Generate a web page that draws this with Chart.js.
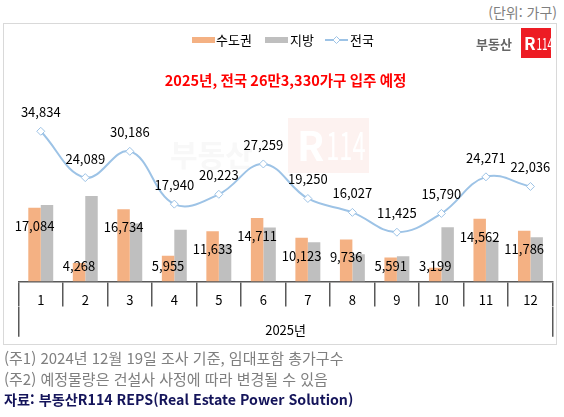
<!DOCTYPE html>
<html lang="ko">
<head>
<meta charset="utf-8">
<title>2025년 입주 예정 물량</title>
<script src="https://cdn.jsdelivr.net/npm/chart.js@4.4.1/dist/chart.umd.min.js"></script>
<style>
    body { margin: 0; background: #fff; font-family: 'Noto Sans CJK KR', 'Noto Sans', sans-serif; }
    #page { position: relative; width: 564px; height: 417px; overflow: hidden; }
    #unit { position: absolute; right: 7px; top: 2px; font-size: 14px; color: #7f7f7f; }
    #box { position: absolute; left: 3px; top: 23px; width: 554px; height: 322px; border: 1px solid #d9d9d9; box-sizing: border-box; }
    #chartWrap { position: absolute; left: 0; top: 0; width: 564px; height: 350px; }
    .note { position: absolute; left: 4px; font-size: 15px; color: #7f7f7f; white-space: nowrap; }
    #src { position: absolute; left: 4px; top: 389px; font-size: 14.2px; font-weight: bold; color: #14145a; white-space: nowrap; }
</style>
</head>
<body>
<div id="page">
    <div id="unit">(단위: 가구)</div>
    <div id="box"></div>
    <div id="chartWrap"><canvas id="supplyChart"></canvas></div>
    <div class="note" style="top:347px">(주1) 2024년 12월 19일 조사 기준, 임대포함 총가구수</div>
    <div class="note" style="top:368px">(주2) 예정물량은 건설사 사정에 따라 변경될 수 있음</div>
    <div id="src">자료: 부동산R114 REPS(Real Estate Power Solution)</div>
</div>
<script>
// data (가구)
const months = ['1', '2', '3', '4', '5', '6', '7', '8', '9', '10', '11', '12'];
const capital = [17084, 4268, 16734, 5955, 11633, 14711, 10123, 9736, 5591, 3199, 14562, 11786];
const regions = [17750, 19821, 13452, 11985, 8590, 12548, 9127, 6291, 5834, 12591, 9709, 10250];
const nationwide = [34834, 24089, 30186, 17940, 20223, 27259, 19250, 16027, 11425, 15790, 24271, 22036];
const yearLabel = ['2025년'];

const FONT = "'Noto Sans CJK KR', 'Noto Sans', sans-serif";
const ORANGE = '#f4b183';
const GRAY = '#bfbfbf';
const BLUE = '#9dc3e6';
const AXIS = '#595959';

function fmt(v) {
    return v.toLocaleString('en-US');
}

// draws "R114" with a bold R and a narrow 114
function drawR114(c, x, y, size, color) {
    c.fillStyle = color;
    c.font = 'bold ' + size + 'px ' + FONT;
    c.fillText('R', x, y);
    const w = c.measureText('R').width;
    c.save();
    c.translate(x + w + size * 0.05, y);
    c.scale(0.62, 1);
    c.font = (size * 0.95) + 'px ' + FONT;
    c.fillText('114', 0, 0);
    c.restore();
}

// faint watermark behind the bars
const watermark = {
    id: 'watermark',
    beforeDatasetsDraw(chart) {
        const c = chart.ctx;
        c.save();
        c.textBaseline = 'middle';
        c.fillStyle = '#fdf2f0';
        c.fillRect(288, 118, 81, 55);
        c.fillStyle = '#f8f8f8';
        c.font = 'bold 30px ' + FONT;
        c.fillText('부동산', 170, 155);
        drawR114(c, 297, 146, 40, '#ffffff');
        c.restore();
    }
};

// value labels
const valueLabels = {
    id: 'valueLabels',
    afterDatasetsDraw(chart) {
        const c = chart.ctx;
        const base = chart.scales.y.getPixelForValue(0);
        c.save();
        c.font = '13px ' + FONT;
        c.fillStyle = '#000';
        c.textAlign = 'center';
        c.textBaseline = 'middle';
        chart.getDatasetMeta(0).data.forEach((bar, i) => {
            const y = Math.min(bar.y + 18, base - 15);
            c.fillText(fmt(capital[i]), bar.x, y);
        });
        chart.getDatasetMeta(2).data.forEach((pt, i) => {
            c.fillText(fmt(nationwide[i]), pt.x, pt.y - 19);
        });
        c.restore();
    }
};

// legend + logo
const legendLogo = {
    id: 'legendLogo',
    afterDraw(chart) {
        const c = chart.ctx;
        const y = 40;
        c.save();
        c.font = '13px ' + FONT;
        c.textBaseline = 'middle';
        c.fillStyle = ORANGE;
        c.fillRect(192, y - 3, 23, 6);
        c.fillStyle = GRAY;
        c.fillRect(265, y - 3, 23, 6);
        c.fillStyle = '#000';
        c.fillText('수도권', 216, y);
        c.fillText('지방', 290, y);
        c.fillText('전국', 350, y);
        c.strokeStyle = BLUE;
        c.lineWidth = 2;
        c.beginPath();
        c.moveTo(325, y);
        c.lineTo(348, y);
        c.stroke();
        c.fillStyle = '#fff';
        c.lineWidth = 1;
        c.beginPath();
        c.moveTo(336.5, y - 3.5);
        c.lineTo(340, y);
        c.lineTo(336.5, y + 3.5);
        c.lineTo(333, y);
        c.closePath();
        c.fill();
        c.stroke();

        // R114 logo
        c.fillStyle = '#ed1c24';
        c.fillRect(521, 28, 30, 30);
        drawR114(c, 524, 44, 17, '#ffffff');
        c.fillStyle = '#666';
        c.font = 'bold 13px ' + FONT;
        c.fillText('부동산', 476, 44);
        c.restore();
    }
};

// empty axis title used only as spacer
function spacer(h) {
    return { display: true, text: '', font: { size: 10, lineHeight: 1 }, padding: { top: h - 10, bottom: 0 } };
}

const ctx = document.getElementById('supplyChart').getContext('2d');
const supplyChart = new Chart(ctx, {
    type: 'bar',
    data: {
        labels: months,
        datasets: [{
            label: '수도권',
            data: capital,
            backgroundColor: ORANGE,
            order: 2,
            categoryPercentage: 0.56,
            barPercentage: 1
        }, {
            label: '지방',
            data: regions,
            backgroundColor: GRAY,
            order: 2,
            categoryPercentage: 0.56,
            barPercentage: 1
        }, {
            type: 'line',
            label: '전국',
            data: nationwide,
            borderColor: BLUE,
            borderWidth: 2,
            tension: 0.4,
            pointStyle: 'rectRot',
            pointRadius: 4,
            pointBackgroundColor: '#fff',
            pointBorderColor: BLUE,
            pointBorderWidth: 1,
            order: 1
        }]
    },
    options: {
        responsive: true,
        maintainAspectRatio: false,
        animation: false,
        layout: {
            padding: { left: 18.5, right: 11.3, top: 0, bottom: 12.7 }
        },
        plugins: {
            legend: { display: false },
            tooltip: { enabled: false },
            title: {
                display: true,
                text: '2025년, 전국 26만3,330가구 입주 예정',
                color: '#ff0000',
                font: { family: FONT, size: 14.5, weight: 'bold' },
                padding: { top: 71.3, bottom: 16 }
            }
        },
        scales: {
            y: {
                display: false,
                min: 0,
                max: 41000
            },
            x: {
                weight: 0,
                grid: {
                    drawOnChartArea: false,
                    offset: true,
                    tickLength: 25,
                    color: AXIS,
                    lineWidth: 1.5
                },
                border: { display: true, color: AXIS, width: 1.5 },
                ticks: {
                    color: '#000',
                    padding: -13.8,
                    font: { family: FONT, size: 13 }
                },
                title: spacer(12)
            },
            x2: {
                type: 'category',
                labels: yearLabel,
                position: 'bottom',
                offset: true,
                weight: 1,
                grid: {
                    drawOnChartArea: false,
                    offset: true,
                    tickLength: 30.2,
                    color: AXIS,
                    lineWidth: 1.5
                },
                border: { display: false },
                ticks: {
                    color: '#000',
                    padding: -14.5,
                    font: { family: FONT, size: 13 }
                },
                title: spacer(14)
            }
        }
    },
    plugins: [watermark, valueLabels, legendLogo]
});
</script>
</body>
</html>
